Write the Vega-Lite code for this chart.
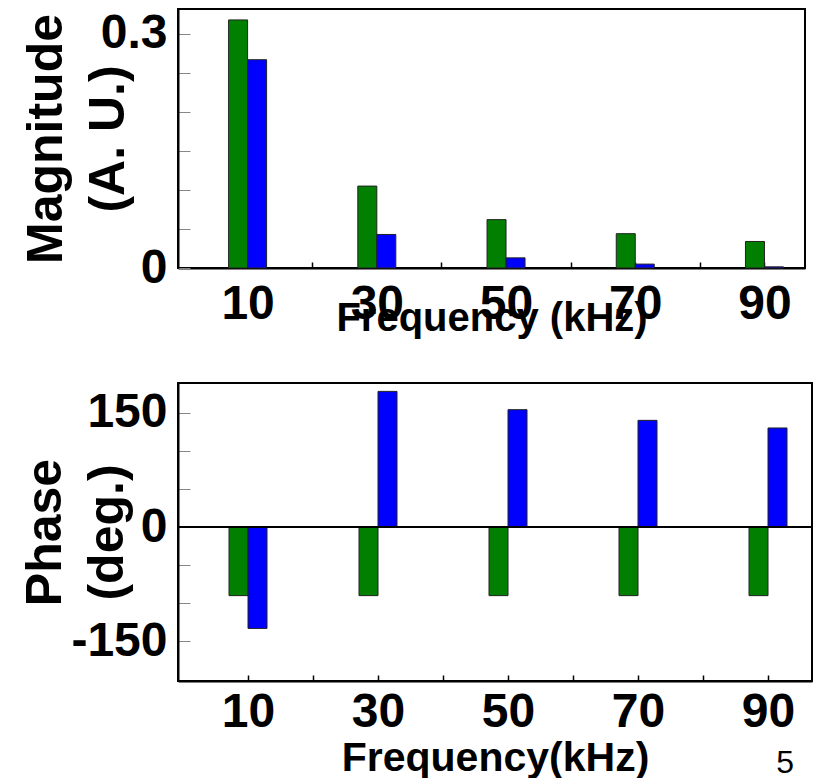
{
  "$schema": "https://vega.github.io/schema/vega-lite/v6.json",
  "padding": {"left": 19, "top": 8, "right": 1, "bottom": 0},
  "background": "white",
  "datasets": {
    "spec": [
      {"freq": 10, "series": "A", "magnitude": 0.318, "phase": -90},
      {"freq": 10, "series": "B", "magnitude": 0.267, "phase": -133},
      {"freq": 30, "series": "A", "magnitude": 0.105, "phase": -90},
      {"freq": 30, "series": "B", "magnitude": 0.043, "phase": 178},
      {"freq": 50, "series": "A", "magnitude": 0.062, "phase": -90},
      {"freq": 50, "series": "B", "magnitude": 0.013, "phase": 154},
      {"freq": 70, "series": "A", "magnitude": 0.044, "phase": -90},
      {"freq": 70, "series": "B", "magnitude": 0.005, "phase": 140},
      {"freq": 90, "series": "A", "magnitude": 0.034, "phase": -90},
      {"freq": 90, "series": "B", "magnitude": 0.0015, "phase": 130}
    ]
  },
  "title": {"text": "5", "orient": "bottom", "anchor": "end", "fontSize": 32, "fontWeight": "normal", "font": "Liberation Sans", "color": "black", "offset": -31, "dx": -20},
  "spacing": 43,
  "vconcat": [
    {
      "width": 627,
      "height": 259,
      "data": {"name": "spec"},
      "encoding": {
        "x": {"field": "freq", "type": "quantitative", "scale": {"domain": [0, 95.5], "nice": false, "zero": false},
          "axis": {"values": [10, 20, 30, 40, 50, 60, 70, 80, 90], "labelExpr": "datum.value % 20 == 10 ? datum.label : ''", "title": "Frequency (kHz)", "titlePadding": -30, "titleFontSize": 40}},
        "y": {"field": "magnitude", "type": "quantitative", "scale": {"domain": [0, 0.332], "nice": false},
          "axis": {"values": [0, 0.05, 0.1, 0.15, 0.2, 0.25, 0.3], "format": "~g", "labelExpr": "datum.value == 0 || datum.value == 0.3 ? datum.label : ''", "title": ["Magnitude", "(A. U.)"], "titlePadding": -33}},
        "color": {"field": "series", "type": "nominal", "scale": {"domain": ["A", "B"], "range": ["#007f00", "#0000ff"]}, "legend": null}
      },
      "layer": [
        {"transform": [{"filter": "datum.series == 'A'"}], "mark": {"type": "bar", "width": 19, "xOffset": -9.5, "stroke": "#222222", "strokeWidth": 1}},
        {"transform": [{"filter": "datum.series == 'B'"}], "mark": {"type": "bar", "width": 19, "xOffset": 9.5, "stroke": "#222222", "strokeWidth": 1}}
      ]
    },
    {
      "width": 634,
      "height": 298,
      "data": {"name": "spec"},
      "layer": [
        {
          "encoding": {
            "x": {"field": "freq", "type": "quantitative", "scale": {"domain": [0, 96], "nice": false, "zero": false},
              "axis": {"values": [10, 20, 30, 40, 50, 60, 70, 80, 90], "labelExpr": "datum.value % 20 == 10 ? datum.label : ''", "title": "Frequency(kHz)", "titlePadding": 2, "titleFontSize": 41, "labelPadding": 13}},
            "y": {"field": "phase", "type": "quantitative", "scale": {"domain": [-202, 189], "nice": false},
              "axis": {"values": [-150, -100, -50, 0, 50, 100, 150], "labelExpr": "indexof([-150, 0, 150], datum.value) >= 0 ? toString(datum.value) : ''", "title": ["Phase", "(deg.)"], "titlePadding": -62}},
            "color": {"field": "series", "type": "nominal", "scale": {"domain": ["A", "B"], "range": ["#007f00", "#0000ff"]}, "legend": null}
          },
          "layer": [
            {"transform": [{"filter": "datum.series == 'A'"}], "mark": {"type": "bar", "width": 19, "xOffset": -9.5, "stroke": "#222222", "strokeWidth": 1}},
            {"transform": [{"filter": "datum.series == 'B'"}], "mark": {"type": "bar", "width": 19, "xOffset": 9.5, "stroke": "#222222", "strokeWidth": 1}}
          ]
        },
        {
          "mark": {"type": "rule", "color": "black", "strokeWidth": 2},
          "encoding": {"y": {"datum": 0}}
        }
      ]
    }
  ],
  "config": {
    "font": "Liberation Sans",
    "view": {"stroke": "black", "strokeWidth": 2},
    "axis": {"labelFont": "Liberation Sans", "labelFontWeight": "bold", "labelFontSize": 48, "labelColor": "black", "titleFont": "Liberation Sans", "titleFontWeight": "bold", "titleColor": "black", "grid": false, "domainColor": "black", "domainWidth": 2, "labelFlush": false, "labelOverlap": false},
    "axisX": {"tickSize": -6, "tickColor": "black", "tickWidth": 1.5, "labelPadding": 18},
    "axisY": {"titleFontSize": 50, "tickSize": -12, "tickColor": "#888888", "tickWidth": 1, "labelPadding": 23, "titleLineHeight": 62}
  }
}
